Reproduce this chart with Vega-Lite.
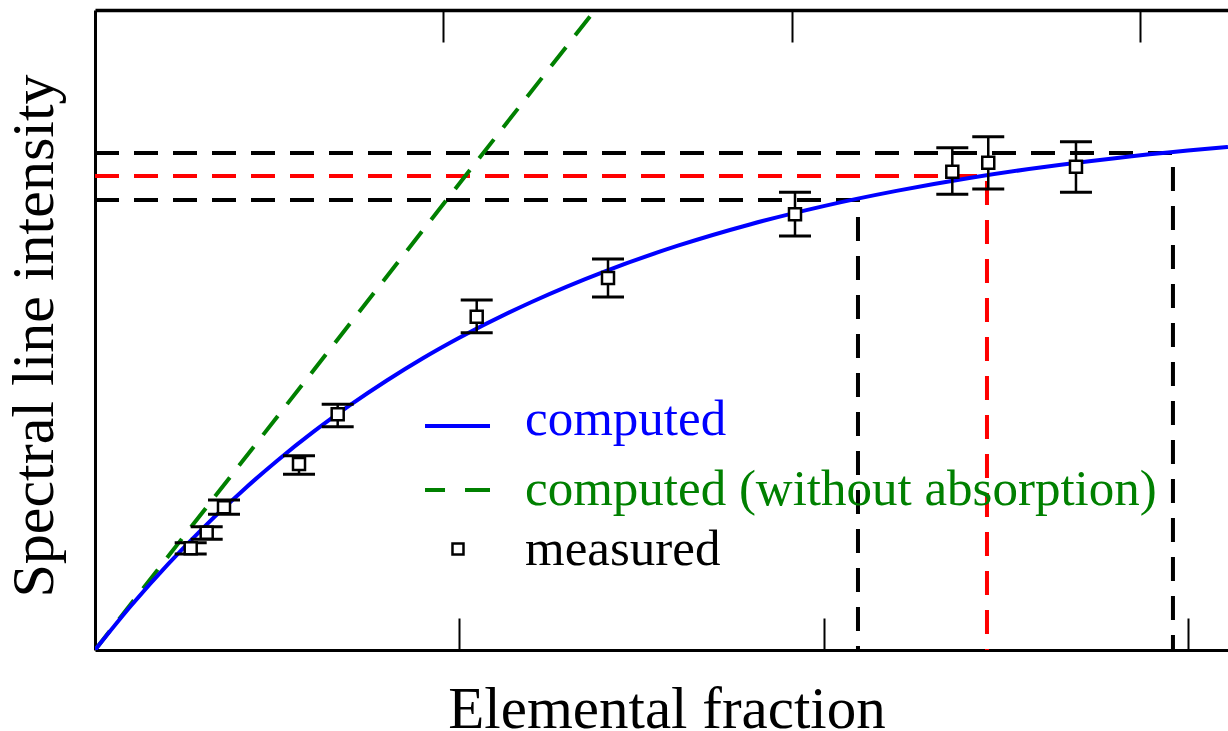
{
  "$schema": "https://vega.github.io/schema/vega-lite/v6.json",
  "width": 1133,
  "height": 640,
  "autosize": "none",
  "padding": {"left": 95, "top": 10, "right": 0, "bottom": 81},
  "background": "white",
  "config": {"view": {"stroke": null}},
  "resolve": {"axis": {"x": "independent", "y": "independent"}},
  "datasets": {
    "curve": [
      {"x": 0, "y": 0}, {"x": 0.1, "y": 0.447}, {"x": 0.2, "y": 0.856}, {"x": 0.3, "y": 1.232},
      {"x": 0.4, "y": 1.576}, {"x": 0.5, "y": 1.893}, {"x": 0.6, "y": 2.183}, {"x": 0.7, "y": 2.448},
      {"x": 0.8, "y": 2.692}, {"x": 0.9, "y": 2.917}, {"x": 1.0, "y": 3.122}, {"x": 1.2, "y": 3.483},
      {"x": 1.4, "y": 3.787}, {"x": 1.6, "y": 4.043}, {"x": 1.8, "y": 4.258}, {"x": 2.0, "y": 4.439},
      {"x": 2.2, "y": 4.591}, {"x": 2.4, "y": 4.72}, {"x": 2.6, "y": 4.828}, {"x": 2.8, "y": 4.918},
      {"x": 3.0, "y": 4.994}, {"x": 3.11, "y": 5.031}
    ],
    "green": [{"x": 0, "y": 0}, {"x": 1.3725, "y": 6.4}],
    "guides": [
      {"g": "low", "o": 0, "x": 0, "y": 4.5}, {"g": "low", "o": 1, "x": 2.0944, "y": 4.5}, {"g": "low", "o": 2, "x": 2.0944, "y": 0},
      {"g": "mid", "o": 0, "x": 0, "y": 4.74}, {"g": "mid", "o": 1, "x": 2.4485, "y": 4.74}, {"g": "mid", "o": 2, "x": 2.4485, "y": 0},
      {"g": "high", "o": 0, "x": 0, "y": 4.97}, {"g": "high", "o": 1, "x": 2.959, "y": 4.97}, {"g": "high", "o": 2, "x": 2.959, "y": 0}
    ],
    "pts": [
      {"x": 0.2627, "y": 1.017, "lo": 0.96, "hi": 1.073},
      {"x": 0.3066, "y": 1.173, "lo": 1.107, "hi": 1.233},
      {"x": 0.3541, "y": 1.427, "lo": 1.357, "hi": 1.5},
      {"x": 0.56, "y": 1.86, "lo": 1.757, "hi": 1.943},
      {"x": 0.6662, "y": 2.357, "lo": 2.233, "hi": 2.457},
      {"x": 1.0478, "y": 3.333, "lo": 3.173, "hi": 3.5},
      {"x": 1.4082, "y": 3.72, "lo": 3.53, "hi": 3.91},
      {"x": 1.9215, "y": 4.357, "lo": 4.14, "hi": 4.577},
      {"x": 2.3533, "y": 4.783, "lo": 4.557, "hi": 5.023},
      {"x": 2.452, "y": 4.873, "lo": 4.61, "hi": 5.133},
      {"x": 2.6928, "y": 4.833, "lo": 4.577, "hi": 5.083}
    ],
    "legend": [
      {"item": "computed", "label": "computed", "x": 1.1804, "y": 2.15, "sx": 0.9059, "sx2": 1.0843, "sy": 2.24},
      {"item": "noabs", "label": "computed (without absorption)", "x": 1.1804, "y": 1.45, "sx": 0.9059, "sx2": 1.0843, "sy": 1.6},
      {"item": "measured", "label": "measured", "x": 1.1804, "y": 0.85, "sx": 0.9964, "sx2": 0.9964, "sy": 1.01}
    ],
    "topticks": [{"t": 0.9561}, {"t": 1.9122}, {"t": 2.8683}]
  },
  "layer": [
    {
      "data": {"name": "guides"},
      "transform": [{"filter": "datum.g !== 'mid'"}],
      "mark": {"type": "line", "color": "black", "strokeWidth": 4, "strokeDash": [24, 15], "clip": true},
      "encoding": {
        "x": {"field": "x", "type": "quantitative", "scale": {"domain": [0, 3.1101], "nice": false, "zero": false},
          "axis": {"title": "Elemental fraction", "orient": "bottom", "values": [1, 2, 3], "tickSize": -32, "tickWidth": 2, "tickColor": "black", "labels": false, "grid": false, "domainColor": "black", "domainWidth": 3, "titleFont": "Liberation Serif", "titleFontSize": 59, "titleFontWeight": "normal", "titleColor": "black", "titleX": 571.5, "titleY": 77, "titleAlign": "center", "titleBaseline": "alphabetic"}},
        "y": {"field": "y", "type": "quantitative", "scale": {"domain": [0, 6.4], "nice": false, "zero": false},
          "axis": {"title": "Spectral line intensity", "orient": "left", "ticks": false, "labels": false, "grid": false, "domainColor": "black", "domainWidth": 3, "titleFont": "Liberation Serif", "titleFontSize": 60, "titleFontWeight": "normal", "titleColor": "black", "titleX": -43, "titleY": 325.5, "titleAngle": 270, "titleAlign": "center", "titleBaseline": "alphabetic"}},
        "detail": {"field": "g"},
        "order": {"field": "o"}
      }
    },
    {
      "data": {"name": "topticks"},
      "mark": {"type": "rule", "opacity": 0},
      "encoding": {
        "x": {"field": "t", "type": "quantitative",
          "axis": {"orient": "top", "title": null, "values": [0.9561, 1.9122, 2.8683], "tickSize": -32, "tickWidth": 2, "tickColor": "black", "labels": false, "grid": false, "domainColor": "black", "domainWidth": 3.5}}
      }
    },
    {
      "data": {"name": "guides"},
      "transform": [{"filter": "datum.g === 'mid'"}],
      "mark": {"type": "line", "color": "#ff0000", "strokeWidth": 4, "strokeDash": [24, 15], "clip": true},
      "encoding": {
        "x": {"field": "x", "type": "quantitative", "axis": null},
        "y": {"field": "y", "type": "quantitative", "axis": null},
        "order": {"field": "o"}
      }
    },
    {
      "data": {"name": "green"},
      "mark": {"type": "line", "color": "#008000", "strokeWidth": 4, "strokeDash": [24, 15], "clip": true},
      "encoding": {
        "x": {"field": "x", "type": "quantitative", "axis": null},
        "y": {"field": "y", "type": "quantitative", "axis": null}
      }
    },
    {
      "data": {"name": "curve"},
      "mark": {"type": "line", "color": "#0000ff", "strokeWidth": 4, "interpolate": "monotone", "clip": true},
      "encoding": {
        "x": {"field": "x", "type": "quantitative", "axis": null},
        "y": {"field": "y", "type": "quantitative", "axis": null}
      }
    },
    {
      "data": {"name": "pts"},
      "mark": {"type": "rule", "color": "black", "strokeWidth": 2.5},
      "encoding": {
        "x": {"field": "x", "type": "quantitative", "axis": null},
        "y": {"field": "lo", "type": "quantitative", "axis": null},
        "y2": {"field": "hi"}
      }
    },
    {
      "data": {"name": "pts"},
      "mark": {"type": "tick", "orient": "horizontal", "color": "black", "size": 32, "thickness": 3, "opacity": 1},
      "encoding": {
        "x": {"field": "x", "type": "quantitative", "axis": null},
        "y": {"field": "lo", "type": "quantitative", "axis": null}
      }
    },
    {
      "data": {"name": "pts"},
      "mark": {"type": "tick", "orient": "horizontal", "color": "black", "size": 32, "thickness": 3, "opacity": 1},
      "encoding": {
        "x": {"field": "x", "type": "quantitative", "axis": null},
        "y": {"field": "hi", "type": "quantitative", "axis": null}
      }
    },
    {
      "data": {"name": "pts"},
      "mark": {"type": "point", "shape": "square", "filled": true, "fill": "white", "stroke": "black", "strokeWidth": 2.5, "size": 144, "opacity": 1},
      "encoding": {
        "x": {"field": "x", "type": "quantitative", "axis": null},
        "y": {"field": "y", "type": "quantitative", "axis": null}
      }
    },
    {
      "data": {"name": "legend"},
      "transform": [{"filter": "datum.item === 'computed'"}],
      "mark": {"type": "rule", "color": "#0000ff", "strokeWidth": 4},
      "encoding": {
        "x": {"field": "sx", "type": "quantitative", "axis": null},
        "x2": {"field": "sx2"},
        "y": {"field": "sy", "type": "quantitative", "axis": null}
      }
    },
    {
      "data": {"name": "legend"},
      "transform": [{"filter": "datum.item === 'noabs'"}],
      "mark": {"type": "rule", "color": "#008000", "strokeWidth": 4, "strokeDash": [20, 20, 25, 0]},
      "encoding": {
        "x": {"field": "sx", "type": "quantitative", "axis": null},
        "x2": {"field": "sx2"},
        "y": {"field": "sy", "type": "quantitative", "axis": null}
      }
    },
    {
      "data": {"name": "legend"},
      "transform": [{"filter": "datum.item === 'measured'"}],
      "mark": {"type": "point", "shape": "square", "filled": true, "fill": "white", "stroke": "black", "strokeWidth": 2.5, "size": 121, "opacity": 1},
      "encoding": {
        "x": {"field": "sx", "type": "quantitative", "axis": null},
        "y": {"field": "sy", "type": "quantitative", "axis": null}
      }
    },
    {
      "data": {"name": "legend"},
      "transform": [{"filter": "datum.item === 'computed'"}],
      "mark": {"type": "text", "color": "#0000ff", "font": "Liberation Serif", "fontSize": 51, "align": "left", "baseline": "alphabetic"},
      "encoding": {
        "x": {"field": "x", "type": "quantitative", "axis": null},
        "y": {"field": "y", "type": "quantitative", "axis": null},
        "text": {"field": "label"}
      }
    },
    {
      "data": {"name": "legend"},
      "transform": [{"filter": "datum.item === 'noabs'"}],
      "mark": {"type": "text", "color": "#008000", "font": "Liberation Serif", "fontSize": 51, "align": "left", "baseline": "alphabetic"},
      "encoding": {
        "x": {"field": "x", "type": "quantitative", "axis": null},
        "y": {"field": "y", "type": "quantitative", "axis": null},
        "text": {"field": "label"}
      }
    },
    {
      "data": {"name": "legend"},
      "transform": [{"filter": "datum.item === 'measured'"}],
      "mark": {"type": "text", "color": "black", "font": "Liberation Serif", "fontSize": 51, "align": "left", "baseline": "alphabetic"},
      "encoding": {
        "x": {"field": "x", "type": "quantitative", "axis": null},
        "y": {"field": "y", "type": "quantitative", "axis": null},
        "text": {"field": "label"}
      }
    }
  ]
}
